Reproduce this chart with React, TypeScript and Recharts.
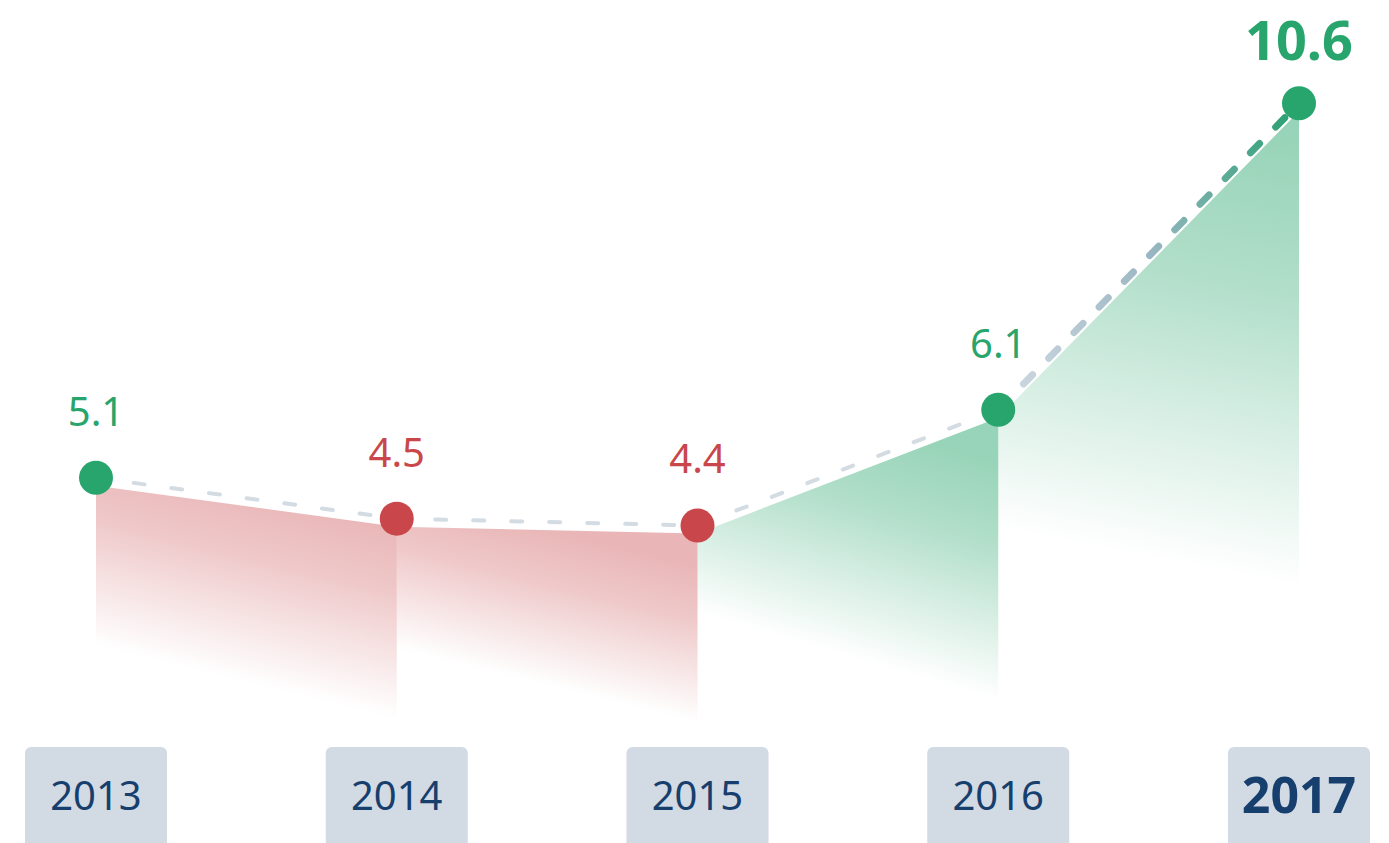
import { ComposedChart, Area, Line, XAxis, YAxis, LabelList } from 'recharts'

const years = ['2013', '2014', '2015', '2016', '2017']
const growth = [5.1, 4.5, 4.4, 6.1, 10.6]

const GREEN = '#28a56c'
const RED = '#c9474a'
const NAVY = '#173f6e'
const FONT = '"Noto Sans", "Open Sans", sans-serif'

// gradient direction per segment, in bounding-box units (fade runs diagonally)
const segFade = [
  { x1: 0.5, y1: 0, x2: 0.386, y2: 0.541 },
  { x1: 0.5, y1: 0, x2: 0.382, y2: 0.49 },
  { x1: 0.5, y1: 0, x2: 0.384, y2: 0.551 },
  { x1: 0.5, y1: 0, x2: 0.451, y2: 0.616 },
]

const last = growth.length - 1
const colorAt = (i: number) => (i === 0 || growth[i] >= growth[i - 1] ? GREEN : RED)
const segUp = (k: number) => growth[k + 1] >= growth[k]

const rows = years.map((year, i) => {
  const row: Record<string, string | number | null> = {
    year,
    value: growth[i],
    thin: i <= last - 1 ? growth[i] : null,
    thick: i >= last - 1 ? growth[i] : null,
  }
  segFade.forEach((_, k) => {
    row[`seg${k}`] = i === k || i === k + 1 ? growth[i] : null
  })
  return row
})

function Dot(props: any) {
  const { cx, cy, index } = props
  if (cx == null || cy == null) return null
  return <circle cx={cx} cy={cy} r={17} fill={colorAt(index)} />
}

function ValueLabel(props: any) {
  const { x, y, index, value } = props
  const big = index === last
  return (
    <text
      x={x}
      y={big ? y - 43 : y - 52}
      textAnchor="middle"
      fill={colorAt(index)}
      fontFamily={FONT}
      fontSize={big ? 54 : 40}
      fontWeight={big ? 700 : 400}
    >
      {value}
    </text>
  )
}

function YearTick(props: any) {
  const { x, y, payload, index } = props
  const big = index === last
  return (
    <g>
      <rect x={x - 71} y={y - 78} width={142} height={110} rx={6} fill="#d2dae3" />
      <text
        x={x}
        y={y - 29}
        dy={big ? 17 : 14}
        textAnchor="middle"
        fill={NAVY}
        fontFamily={FONT}
        fontSize={big ? 50 : 40}
        fontWeight={big ? 700 : 400}
      >
        {payload.value}
      </text>
    </g>
  )
}

export default function App() {
  return (
    <div style={{ position: 'absolute', left: 0, top: 0 }}>
      <style>{`.seg-area { transform: translateY(8px); }`}</style>
      <ComposedChart width={1389} height={843} data={rows} margin={{ top: 8, right: 90, bottom: 0, left: 96 }}>
        <defs>
          {segFade.map((g, k) => {
            const c = segUp(k) ? GREEN : RED
            const top = segUp(k) ? 0.48 : 0.4
            return (
              <linearGradient key={k} id={`segFill${k}`} x1={g.x1} y1={g.y1} x2={g.x2} y2={g.y2}>
                <stop offset="0%" stopColor={c} stopOpacity={top} />
                <stop offset="35%" stopColor={c} stopOpacity={top * 0.75} />
                <stop offset="100%" stopColor={c} stopOpacity={0} />
              </linearGradient>
            )
          })}
          <linearGradient id="lastLine" x1={0} y1={1} x2={1} y2={0}>
            <stop offset="0%" stopColor="#d3dbe3" />
            <stop offset="50%" stopColor="#9ab7c3" />
            <stop offset="100%" stopColor="#259f6e" />
          </linearGradient>
        </defs>
        <XAxis
          dataKey="year"
          scale="point"
          height={18}
          axisLine={false}
          tickLine={false}
          tickSize={0}
          tickMargin={0}
          interval={0}
          tick={<YearTick />}
        />
        <YAxis hide type="number" domain={[0, 12]} />
        {segFade.map((_, k) => (
          <Area
            key={k}
            className="seg-area"
            dataKey={`seg${k}`}
            type="linear"
            baseValue={0}
            stroke="none"
            fill={`url(#segFill${k})`}
            fillOpacity={1}
            dot={false}
            activeDot={false}
            isAnimationActive={false}
          />
        ))}
        <Line
          dataKey="thin"
          type="linear"
          stroke="#d3dbe3"
          strokeWidth={4}
          strokeDasharray="11 27"
          strokeLinecap="round"
          dot={false}
          activeDot={false}
          isAnimationActive={false}
        />
        <Line
          dataKey="thick"
          type="linear"
          stroke="url(#lastLine)"
          strokeWidth={7}
          strokeDasharray="13 23"
          strokeLinecap="round"
          dot={false}
          activeDot={false}
          isAnimationActive={false}
        />
        <Line
          dataKey="value"
          type="linear"
          stroke="none"
          dot={<Dot />}
          activeDot={false}
          isAnimationActive={false}
        >
          <LabelList dataKey="value" content={<ValueLabel />} />
        </Line>
      </ComposedChart>
    </div>
  )
}
